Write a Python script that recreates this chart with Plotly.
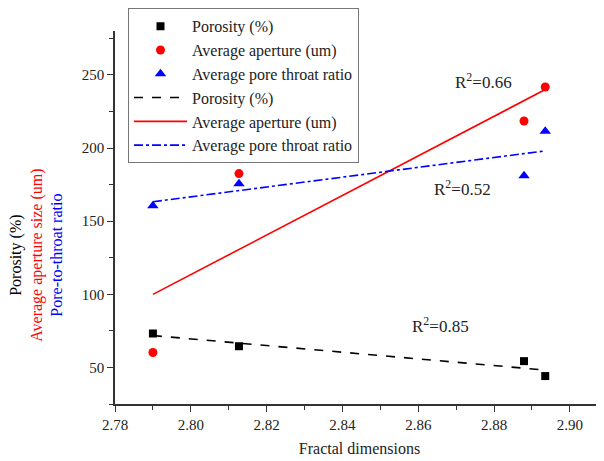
import numpy as np
import plotly.graph_objects as go

# Data
fractal_dim = [2.790, 2.8127, 2.8879, 2.8935]
porosity = [73.2, 64.5, 54.3, 44.1]
aperture = [60.2, 182.5, 218.5, 241.7]
pore_throat = [160.5, 175.5, 181.0, 211.4]

r2_labels = ["R<sup>2</sup>=0.66", "R<sup>2</sup>=0.52", "R<sup>2</sup>=0.85"]
r2_x = [2.8771, 2.8716, 2.8658]
r2_y = [246, 173, 79]

FONT = "Liberation Serif, Times New Roman, serif"

x = np.array(fractal_dim)
xs = np.array([x.min(), x.max()])

def fit(yv):
    k, b = np.polyfit(x, np.array(yv), 1)
    return k * xs + b

fig = go.Figure()
fig.add_trace(go.Scatter(x=fractal_dim, y=porosity, mode="markers", name="Porosity (%)",
                         marker=dict(symbol="square", color="black", size=8)))
fig.add_trace(go.Scatter(x=fractal_dim, y=aperture, mode="markers", name="Average aperture (um)",
                         marker=dict(symbol="circle", color="red", size=9)))
fig.add_trace(go.Scatter(x=fractal_dim, y=pore_throat, mode="markers", name="Average pore throat ratio",
                         marker=dict(symbol="triangle-up", color="blue", size=10)))
fig.add_trace(go.Scatter(x=xs, y=fit(porosity), mode="lines", name="Porosity (%)",
                         line=dict(color="black", dash="dash", width=1.6)))
fig.add_trace(go.Scatter(x=xs, y=fit(aperture), mode="lines", name="Average aperture (um)",
                         line=dict(color="red", dash="solid", width=1.6)))
fig.add_trace(go.Scatter(x=xs, y=fit(pore_throat), mode="lines", name="Average pore throat ratio",
                         line=dict(color="blue", dash="dashdot", width=1.6)))

for t, ax_, ay_ in zip(r2_labels, r2_x, r2_y):
    fig.add_annotation(x=ax_, y=ay_, text=t, showarrow=False,
                       font=dict(family=FONT, size=17, color="#222"))

fig.add_annotation(
    xref="paper", yref="paper", x=-0.161, y=0.398, xanchor="center", yanchor="middle",
    textangle=-90, showarrow=False,
    text=("<span style='color:black'>Porosity (%)</span><br>"
          "<span style='color:red'>Average aperture size (um)</span><br>"
          "<span style='color:blue'>Pore-to-throat ratio</span>"),
    font=dict(family=FONT, size=16, color="black"))

fig.update_layout(
    width=596, height=453,
    margin=dict(l=107, r=0, t=21, b=57),
    paper_bgcolor="white", plot_bgcolor="white",
    font=dict(family=FONT, size=15, color="#222"),
    showlegend=True,
    legend=dict(x=0.0266, y=1.061, xanchor="left", yanchor="top",
                bgcolor="white", bordercolor="#777", borderwidth=1,
                font=dict(family=FONT, size=16, color="#222"),
                itemwidth=53, tracegroupgap=0),
)
fig.update_xaxes(range=[2.78, 2.909], tick0=2.78, dtick=0.02, tickformat=".2f",
                 showline=True, linecolor="#333", linewidth=1.5,
                 ticks="outside", ticklen=6, tickcolor="#333", tickwidth=1.3,
                 minor=dict(dtick=0.01, ticks="outside", ticklen=4, tickcolor="#333"),
                 showgrid=False, zeroline=False,
                 title=dict(text="Fractal dimensions", font=dict(family=FONT, size=16), standoff=11),
                 tickfont=dict(family=FONT, size=15))
fig.update_yaxes(range=[25, 280], tick0=0, dtick=50,
                 showline=True, linecolor="#333", linewidth=1.5,
                 ticks="outside", ticklen=6, tickcolor="#333", tickwidth=1.3,
                 minor=dict(dtick=25, ticks="outside", ticklen=4, tickcolor="#333"),
                 showgrid=False, zeroline=False,
                 tickfont=dict(family=FONT, size=15))

fig.write_html("out.html")
